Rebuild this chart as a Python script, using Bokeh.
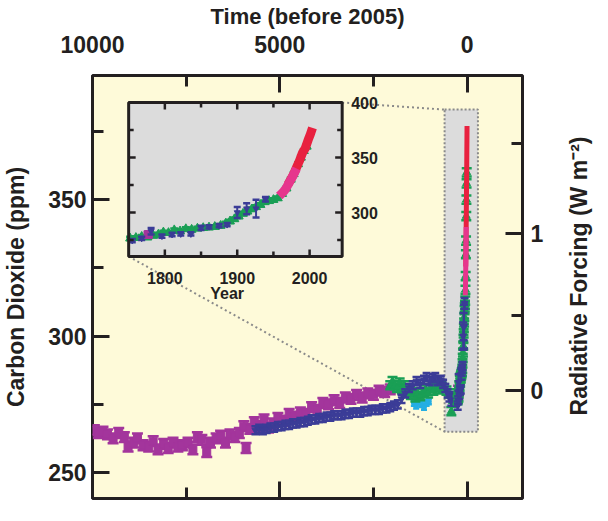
import math
from bokeh.plotting import figure
from bokeh.models import Range1d, LinearAxis, FixedTicker
from bokeh.core.properties import value
from bokeh.embed import file_html
from bokeh.resources import INLINE

# ---------------- data ----------------
# Main panel: ice-core CO2, years before 2005 / ppm
domec_age = [9950, 9850, 9720, 9600, 9450, 9300, 9150, 9050, 8900, 8800,
             8650, 8500, 8380, 8250, 8100, 7980, 7850, 7720, 7600, 7450,
             7320, 7200, 7080, 6950, 6850, 6700, 6580, 6450, 6330, 6200,
             6080, 5900, 5960, 5800, 5680, 5550, 5420, 5300, 5180, 5050,
             4900, 4750, 4600, 4450, 4300, 4150, 4000, 3850, 3700, 3550,
             3400, 3250, 3100, 2950, 2800, 2650, 2500, 2350, 2200, 2050]
domec_co2 = [265.5, 264.5, 265, 264, 262.5, 264.5, 263, 259.5, 261, 262.5,
             260, 259.5, 261.5, 258.5, 260.5, 259, 261, 259.5, 260, 261,
             258.5, 263, 262, 257.5, 261, 262.5, 263.5, 261, 264, 263,
             264.5, 259, 267, 266, 268.5, 267, 269.5, 266.5, 268, 270,
             269, 271.5, 270.5, 272, 271.5, 274, 273, 275.5, 275, 276.5,
             275.5, 277.5, 277, 278.5, 277.5, 279, 278.5, 280, 279.5, 280.5]

blue_age = [5650, 5550, 5450, 5350, 5250, 5150, 5050, 4950, 4850, 4750,
            4650, 4550, 4450, 4350, 4250, 4150, 4050, 3950, 3850, 3750,
            3650, 3550, 3450, 3350, 3250, 3150, 3050, 2950, 2850, 2750,
            2650, 2550, 2450, 2350, 2250, 2150, 2050, 1950, 1850,
            1750, 1650, 1550, 1450, 1350, 1250, 1150,
            1080, 1000, 920, 850, 780, 700, 640, 580, 520, 470, 420, 370, 320]
blue_co2 = [265.5, 266, 265.5, 266, 266.5, 266.5, 267, 267, 267.5, 267.5,
            268, 268, 268.5, 268.5, 269, 269.5, 269.5, 270, 270, 270.5,
            270.5, 271, 271, 271, 271.5, 271.5, 272, 272, 272, 272.5,
            272.5, 273, 273, 273, 273.5, 273.5, 274, 274.5, 275,
            277, 279, 281, 282, 283.5, 282.5, 284,
            285, 283.5, 284.5, 285, 283.5, 284, 282.5, 281, 279, 277.5, 276, 278, 277]

law_age = [2050, 1990, 1930, 1870, 1800, 1740, 1680, 1620, 1560, 1500,
           1440, 1380, 1320, 1250, 1180, 1110, 1040, 970, 900, 830,
           760, 690, 620, 550, 480, 420, 370, 320, 280]
law_co2 = [282, 283.5, 282, 281, 283, 280.5, 282, 279.5, 280.5, 278.5,
           279.5, 277.5, 279, 278, 279.5, 280.5, 279, 281, 280, 281.5,
           280.5, 282, 281, 280, 279, 272.5, 277, 276, 277.5]

cyan_age = [1420, 1360, 1290, 1220, 1150, 1080, 1020]
cyan_co2 = [275.5, 274.5, 276, 275, 274, 275.5, 276]

# Industrial era (calendar year / ppm)
ind_mag_year = [1777]
ind_mag_co2 = [280]

ind_blue_year = [1755, 1768, 1781, 1796, 1810, 1822, 1836, 1850, 1861, 1875, 1886, 1900, 1913, 1926, 1939]
ind_blue_co2 = [274.5, 276.5, 283, 278.5, 280, 280.5, 280.5, 286, 287, 288, 289, 300, 303.5, 303.5, 312]
ind_blue_err = [1.5, 1.5, 3, 1.5, 1.5, 1.5, 1.5, 2, 1.5, 1.5, 1.5, 5, 5, 8, 2]

ind_green_year = [1752, 1760, 1768, 1776, 1784, 1791, 1798, 1805, 1813, 1821,
                  1829, 1837, 1845, 1853, 1861, 1869, 1877, 1884, 1890, 1896,
                  1902, 1908, 1914, 1920, 1926, 1932, 1938, 1944, 1950, 1956,
                  1962, 1968, 1974, 1978, 1984, 1988, 1992, 1996]
ind_green_co2 = [276.5, 277, 278, 277.5, 279, 280, 282, 281.5, 284, 283,
                 285, 284.5, 285.5, 286, 286.5, 287, 288, 290, 292, 294,
                 296.5, 299, 301, 303, 305, 307, 309.5, 310.5, 311.5, 313,
                 317, 322, 330, 335, 344, 350, 356, 360]

pink_year = [1958, 1961, 1964, 1967, 1970, 1973, 1976, 1979, 1982]
pink_co2 = [315, 317, 319, 321.5, 325, 328.5, 332, 336, 340]
red_year = [1970, 1974, 1978, 1982, 1986, 1990, 1994, 1998, 2001, 2004]
red_co2 = [325.5, 330, 335, 341, 347, 354, 358.5, 366, 371, 377]

# ticks
main_x_ticks = [10000, 5000, 0]
main_x_minor = [7500, 2500]
main_y_ticks = [250, 300, 350]
main_y_minor = [275, 325, 375]
rf_ticks = [0, 1]
rf_minor = [0.5, 1.5]
rf_ref_ppm = 280.0
inset_x_ticks = [1800, 1900, 2000]
inset_x_minor = [1850, 1950]
inset_y_ticks = [300, 350, 400]
inset_y_minor = [275, 325, 375]

# ---------------- layout / style ----------------
REF_YEAR = 2005
X_RANGE = (10000, -1480)
Y_RANGE = (240.5, 395.5)
INSET_X = (1750, 2045)
INSET_Y = (260, 400)
FRAME_W, FRAME_H = 434, 423
INSET_PX = (36.5, 252, 27, 181)   # left, right, top, bottom (px from frame top-left)
ZOOM_BOX = (600, -290, 265, 383)  # left, right, bottom, top (main data units)
RF_LABEL_PAD = "\u00a0" * 13      # lifts the right-hand title off the frame bottom

DARK = "#231f20"
BG = "#fefad9"
GRAY = "#dcdcdc"
MAG = "#a3359c"
BLUE = "#3b3c97"
GREEN = "#1a9f55"
CYAN = "#25aee3"
RED = "#e8213f"
PINK = "#e6368d"
DOT = "#8a8a8a"
FONT = "Liberation Sans"

p = figure(width=608, height=521,
           x_range=Range1d(*X_RANGE), y_range=Range1d(*Y_RANGE),
           x_axis_location="above", toolbar_location=None, output_backend="svg",
           min_border_left=88, min_border_right=86, min_border_top=75, min_border_bottom=23)
p.background_fill_color = BG
p.border_fill_color = "white"
p.outline_line_color = DARK
p.outline_line_width = 3
p.xgrid.grid_line_color = None
p.ygrid.grid_line_color = None

# inset extra ranges mapped over the whole frame
il, ir, it, ib = INSET_PX
sx = (ir - il) / (INSET_X[1] - INSET_X[0])
sy = (ib - it) / (INSET_Y[1] - INSET_Y[0])
p.extra_x_ranges = {"ix": Range1d(INSET_X[0] - il / sx, INSET_X[0] + (FRAME_W - il) / sx)}
p.extra_y_ranges = {"iy": Range1d(INSET_Y[0] - (FRAME_H - ib) / sy, INSET_Y[1] + it / sy)}


def style_axis(ax):
    ax.axis_line_color = None
    ax.major_tick_in = 17
    ax.major_tick_out = 0
    ax.minor_tick_in = 11
    ax.minor_tick_out = 0
    ax.major_tick_line_width = 3
    ax.minor_tick_line_width = 3
    ax.major_tick_line_color = DARK
    ax.minor_tick_line_color = DARK
    ax.major_label_text_font = FONT
    ax.major_label_text_font_style = "bold"
    ax.major_label_text_font_size = "23px"
    ax.major_label_text_color = DARK
    ax.axis_label_text_font = FONT
    ax.axis_label_text_font_style = "bold"
    ax.axis_label_text_font_size = "23px"
    ax.axis_label_text_color = DARK


top = p.xaxis[0]
style_axis(top)
top.ticker = FixedTicker(ticks=main_x_ticks, minor_ticks=main_x_minor)
top.axis_label = "Time (before 2005)"
top.axis_label_text_font_size = "22px"
top.major_label_standoff = 23
top.axis_label_standoff = 4

left = p.yaxis[0]
style_axis(left)
left.ticker = FixedTicker(ticks=main_y_ticks, minor_ticks=main_y_minor)
left.axis_label = "Carbon Dioxide (ppm)"
left.major_label_standoff = 6
left.axis_label_standoff = 16

bottom = LinearAxis(ticker=FixedTicker(ticks=main_x_ticks, minor_ticks=main_x_minor))
style_axis(bottom)
bottom.major_label_text_font_size = "1px"
bottom.major_label_text_color = None
bottom.major_label_standoff = 0
p.add_layout(bottom, "below")

rf_ppm = [rf_ref_ppm * math.exp(v / 5.35) for v in rf_ticks]
rf_minor_ppm = [rf_ref_ppm * math.exp(v / 5.35) for v in rf_minor]
right = LinearAxis(ticker=FixedTicker(ticks=rf_ppm, minor_ticks=rf_minor_ppm),
                   major_label_overrides={c: str(v) for c, v in zip(rf_ppm, rf_ticks)})
style_axis(right)
right.major_label_standoff = 8
right.axis_label = RF_LABEL_PAD + "Radiative Forcing (W m\u207b\u00b2)"
right.axis_label_standoff = 33
right.axis_label_orientation = math.pi / 2
right.axis_label_align = "start"
p.add_layout(right, "right")

# ---------------- zoom box & connectors ----------------
zl, zr, zb, zt = ZOOM_BOX
p.quad(left=[zl], right=[zr], bottom=[zb], top=[zt], fill_color=GRAY,
       line_color=DOT, line_dash="2 2", line_width=2)


def mx(px):
    return X_RANGE[0] + (X_RANGE[1] - X_RANGE[0]) * px / FRAME_W


def my(py):
    return Y_RANGE[1] - (Y_RANGE[1] - Y_RANGE[0]) * py / FRAME_H


p.segment(x0=[mx(ir), mx(il)], y0=[my(it), my(ib)], x1=[zl, zl], y1=[zt, zb],
          line_color=DOT, line_dash="2 3", line_width=2)


# ---------------- series helper ----------------
def series(x, y, err, color, marker, msize, cap, xr="default", yr="default"):
    lo = [a - e for a, e in zip(y, err)]
    hi = [a + e for a, e in zip(y, err)]
    p.segment(x0=x, y0=lo, x1=x, y1=hi, line_color=color, line_width=2,
              x_range_name=xr, y_range_name=yr)
    p.scatter(list(x) + list(x), lo + hi, marker="dash", size=cap, line_color=color,
              line_width=2.5, x_range_name=xr, y_range_name=yr)
    p.scatter(x, y, marker=marker, size=msize, fill_color=color, line_color=color,
              x_range_name=xr, y_range_name=yr)


def bp(years):
    return [REF_YEAR - yv for yv in years]


# main panel data
series(domec_age + bp(ind_mag_year), domec_co2 + ind_mag_co2,
       [1.8] * (len(domec_co2) + len(ind_mag_co2)), MAG, "square", 8, 11)
series(cyan_age, cyan_co2, [1.0] * len(cyan_co2), CYAN, "circle", 5, 6)
series(law_age, law_co2, [1.5] * len(law_co2), GREEN, "triangle", 8, 10)
series(blue_age, blue_co2, [1.5] * len(blue_co2), BLUE, "inverted_triangle", 7, 8)
series(bp(ind_green_year), ind_green_co2, [1.5] * len(ind_green_co2), GREEN, "triangle", 8, 10)
series(bp(ind_blue_year), ind_blue_co2, ind_blue_err, BLUE, "inverted_triangle", 7, 8)
p.line(bp(red_year), red_co2, line_color=RED, line_width=5)
p.line(bp(pink_year), pink_co2, line_color=PINK, line_width=5)

# ---------------- inset ----------------
IX = dict(x_range_name="ix", y_range_name="iy")
p.quad(left=[INSET_X[0]], right=[INSET_X[1]], bottom=[INSET_Y[0]], top=[INSET_Y[1]],
       fill_color=GRAY, line_color=None, **IX)

series(ind_green_year, ind_green_co2, [1.5] * len(ind_green_co2), GREEN, "triangle", 9, 8, "ix", "iy")
series(ind_mag_year, ind_mag_co2, [2] * len(ind_mag_co2), MAG, "square", 8, 9, "ix", "iy")
series(ind_blue_year, ind_blue_co2, ind_blue_err, BLUE, "inverted_triangle", 6, 7, "ix", "iy")
p.line(red_year, red_co2, line_color=RED, line_width=9, **IX)
p.line(pink_year, pink_co2, line_color=PINK, line_width=9, **IX)

# inset ticks (inward rays)
for ticks, ln in ((inset_x_ticks, 7), (inset_x_minor, 5)):
    p.ray(x=ticks, y=[INSET_Y[0]] * len(ticks), length=ln, length_units="screen",
          angle=math.pi / 2, line_color=DARK, line_width=2.5, **IX)
    p.ray(x=ticks, y=[INSET_Y[1]] * len(ticks), length=ln, length_units="screen",
          angle=-math.pi / 2, line_color=DARK, line_width=2.5, **IX)
for ticks, ln in ((inset_y_ticks, 7), (inset_y_minor, 5)):
    p.ray(x=[INSET_X[0]] * len(ticks), y=ticks, length=ln, length_units="screen",
          angle=0, line_color=DARK, line_width=2.5, **IX)
    p.ray(x=[INSET_X[1]] * len(ticks), y=ticks, length=ln, length_units="screen",
          angle=math.pi, line_color=DARK, line_width=2.5, **IX)

p.quad(left=[INSET_X[0]], right=[INSET_X[1]], bottom=[INSET_Y[0]], top=[INSET_Y[1]],
       fill_color=None, line_color=DARK, line_width=3, **IX)

p.text(x=inset_x_ticks, y=[INSET_Y[0]] * len(inset_x_ticks), text=[str(t) for t in inset_x_ticks],
       text_font=value(FONT), text_font_style="bold", text_font_size="16px", text_color=DARK,
       text_align="center", text_baseline="alphabetic", y_offset=21, **IX)
p.text(x=[INSET_X[1]] * len(inset_y_ticks), y=inset_y_ticks, text=[str(t) for t in inset_y_ticks],
       text_font=value(FONT), text_font_style="bold", text_font_size="16px", text_color=DARK,
       text_align="left", text_baseline="middle", x_offset=9, **IX)
p.text(x=[1886], y=[INSET_Y[0]], text=["Year"],
       text_font=value(FONT), text_font_style="bold", text_font_size="16px", text_color=DARK,
       text_align="center", text_baseline="alphabetic", y_offset=37, **IX)

open("out.html", "w").write(file_html(p, INLINE))
